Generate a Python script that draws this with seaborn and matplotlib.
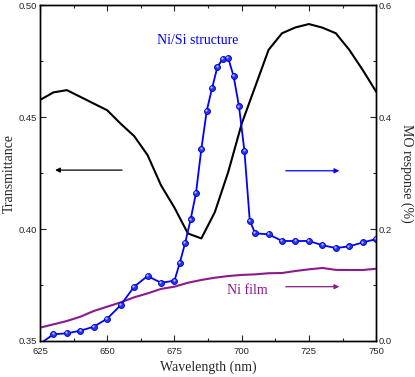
import matplotlib
matplotlib.use("Agg")
import matplotlib.pyplot as plt
from matplotlib.ticker import MultipleLocator
import matplotlib.transforms as mtransforms
import seaborn as sns
import pandas as pd
import numpy as np

# Transmittance (left axis)
wl_t = [625, 630, 635, 640, 645, 650, 655, 660, 665, 670, 675, 680, 685,
        690, 695, 700, 705, 710, 715, 720, 725, 730, 735, 740, 745, 750]
trans = [0.4576, 0.461, 0.462, 0.459, 0.456, 0.453, 0.447, 0.4415, 0.433,
         0.4195, 0.4095, 0.398, 0.3958, 0.4075, 0.4255, 0.447, 0.4635,
         0.480, 0.4874, 0.490, 0.4915, 0.4899, 0.4874, 0.480, 0.471, 0.4613]

# MO response of Ni/Si structure (right axis)
wl_s = [625, 630, 635, 640, 645, 650, 655, 660, 665, 670, 675, 677, 679, 681,
        683, 685, 687, 689, 691, 693, 695, 697, 699, 701, 703, 705, 710, 715,
        720, 725, 730, 735, 740, 745, 750]
mo_s = [-0.005, 0.012, 0.0137, 0.0184, 0.0255, 0.040, 0.064, 0.097, 0.116,
        0.104, 0.1077, 0.140, 0.1755, 0.217, 0.264, 0.343, 0.411, 0.452,
        0.490, 0.5036, 0.505, 0.4727, 0.419, 0.340, 0.215, 0.1923, 0.1905,
        0.1786, 0.1786, 0.1786, 0.171, 0.166, 0.169, 0.176, 0.182]

# MO response of Ni film (right axis)
wl_f = [625, 635, 640, 645, 650, 655, 660, 665, 670, 675, 680, 685, 690, 695,
        700, 705, 710, 715, 720, 725, 730, 735, 740, 745, 750]
mo_f = [0.0238, 0.0357, 0.0434, 0.0536, 0.0613, 0.069, 0.078, 0.085, 0.093,
        0.097, 0.104, 0.109, 0.113, 0.116, 0.118, 0.119, 0.121, 0.1214,
        0.125, 0.128, 0.1304, 0.127, 0.1268, 0.1268, 0.129]

sns.set_style("ticks")
plt.rcParams['font.family'] = ['Liberation Sans', 'DejaVu Sans']
plt.rcParams['xtick.direction'] = 'in'
plt.rcParams['ytick.direction'] = 'in'

fig = plt.figure(figsize=(4.15, 3.77), dpi=100)
ax = fig.add_axes([0.0964, 0.0955, 0.81, 0.8912])
ax2 = ax.twinx()

serif = ['Liberation Serif', 'DejaVu Serif']
blue = "#0000FF"
purple = "#8B1A8B"

df_t = pd.DataFrame({"wl": wl_t, "val": trans})
df_s = pd.DataFrame({"wl": wl_s, "val": mo_s})
df_f = pd.DataFrame({"wl": wl_f, "val": mo_f})

sns.lineplot(data=df_t, x="wl", y="val", ax=ax, color="black", lw=1.5)
sns.lineplot(data=df_f, x="wl", y="val", ax=ax2, color=purple, lw=1.5)
sns.lineplot(data=df_s, x="wl", y="val", ax=ax2, color=blue, lw=1.3,
             marker="o", markersize=4.3, markerfacecolor="#2233ff",
             markeredgecolor="#0000b0", markeredgewidth=0.6)
# sphere-like highlight on the markers
hl = mtransforms.offset_copy(ax2.transData, fig=fig, x=-0.6, y=0.6, units='points')
ax2.plot(wl_s, mo_s, ls='none', marker='o', markersize=1.6,
         color='#b8c0ff', markeredgewidth=0, transform=hl, clip_on=True)

ax.set_xlim(625, 750)
ax.set_ylim(0.35, 0.50)
ax2.set_ylim(0.0, 0.6)

ax.xaxis.set_major_locator(MultipleLocator(25))
ax.xaxis.set_minor_locator(MultipleLocator(12.5))
ax.yaxis.set_minor_locator(MultipleLocator(0.025))
ax2.yaxis.set_minor_locator(MultipleLocator(0.1))

ax.set_yticks([0.35, 0.40, 0.45, 0.50])
ax.set_yticklabels(["0.35", "0.40", "0.45", "0.50"])
ax2.set_yticks([0.0, 0.2, 0.4, 0.6])
ax2.set_yticklabels(["0.0", "0.2", "0.4", "0.6"])

ax.tick_params(axis='both', which='major', length=4, width=0.8, labelsize=6.8,
               pad=2, top=True)
ax.tick_params(axis='x', which='major', pad=4.5)
ax.tick_params(axis='both', which='minor', length=2.5, width=0.8, top=True)
ax.tick_params(axis='y', right=False)
ax2.tick_params(axis='y', which='major', length=4, width=0.8, labelsize=6.8, pad=2)
ax2.tick_params(axis='y', which='minor', length=2.5, width=0.8)

for a in (ax, ax2):
    for s in a.spines.values():
        s.set_linewidth(1.0)
        s.set_color("black")

ax.set_xlabel("Wavelength (nm)", family=serif, fontsize=10, labelpad=3)
ax.set_ylabel("Transmittance", family=serif, fontsize=10, labelpad=2.5)
ax2.set_ylabel("MO response (%)", family=serif, fontsize=10, rotation=270,
               labelpad=15)

ax2.text(683.6, 0.536, "Ni/Si structure", color=blue, family=serif,
         fontsize=10, ha="center", va="center")
ax2.text(702.1, 0.091, "Ni film", color=purple, family=serif,
         fontsize=10, ha="center", va="center")

ax.annotate("", xy=(630.6, 0.4263), xytext=(655.5, 0.4263),
            arrowprops=dict(arrowstyle="-|>", color="black", lw=0.9,
                            mutation_scale=7, shrinkA=0, shrinkB=0))
ax2.annotate("", xy=(736.3, 0.304), xytext=(716.4, 0.304),
             arrowprops=dict(arrowstyle="-|>", color=blue, lw=0.9,
                             mutation_scale=7, shrinkA=0, shrinkB=0))
ax2.annotate("", xy=(736.3, 0.097), xytext=(716.4, 0.097),
             arrowprops=dict(arrowstyle="-|>", color=purple, lw=0.9,
                             mutation_scale=7, shrinkA=0, shrinkB=0))

fig.savefig("out.png", dpi=100)
